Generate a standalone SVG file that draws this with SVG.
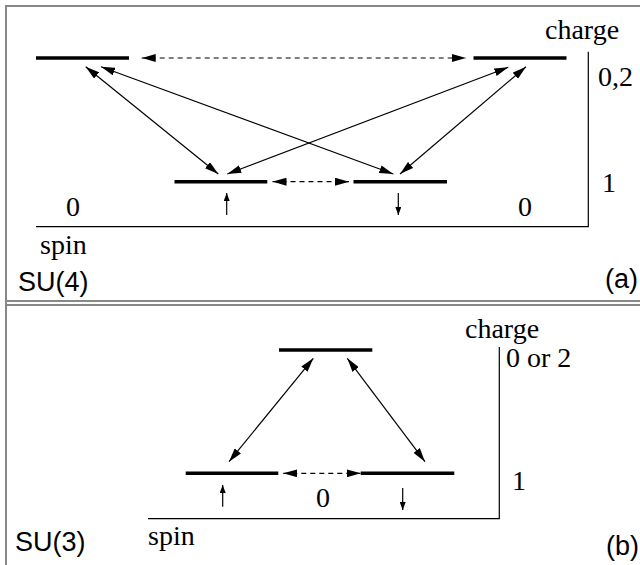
<svg xmlns="http://www.w3.org/2000/svg" width="640" height="565" viewBox="0 0 640 565">
<style>
.lvl{stroke:#000;stroke-width:3.5;}
.ax{stroke:#000;stroke-width:1.2;fill:none;}
.con{stroke:#000;stroke-width:1.2;fill:none;}
.dash{stroke-dasharray:5,4;}
.frame{stroke:#888;stroke-width:2;fill:none;}
.t{font-family:"Liberation Serif","Times New Roman",serif;font-size:28px;fill:#000;}
.s{font-family:"Liberation Sans",Arial,sans-serif;font-size:27px;fill:#000;}
</style>
<defs>
<marker id="ah" viewBox="0 0 14 8" refX="14" refY="4" markerWidth="14" markerHeight="8" markerUnits="userSpaceOnUse" orient="auto-start-reverse">
<path d="M0,0 L14,4 L0,8 z" fill="#000"/>
</marker>
<marker id="sh" viewBox="0 0 8 6" refX="8" refY="3" markerWidth="8" markerHeight="6" markerUnits="userSpaceOnUse" orient="auto">
<path d="M0,0 L8,3 L0,6 z" fill="#000"/>
</marker>
</defs>
<rect width="640" height="565" fill="#fff"/>
<g id="frame">
<path class="frame" d="M6,565 V6 H640"/>
<path class="frame" d="M6,301 H640 M6,305 H640"/>
</g>
<g id="panel-a">
<g id="a-top-left"><line class="lvl" x1="36" y1="58" x2="129" y2="58"/></g>
<g id="a-top-right"><line class="lvl" x1="473.5" y1="58" x2="566.5" y2="58"/></g>
<g id="a-bot-left"><line class="lvl" x1="174.5" y1="181.7" x2="267.3" y2="181.7"/></g>
<g id="a-bot-right"><line class="lvl" x1="353.5" y1="181.7" x2="447" y2="181.7"/></g>
<g id="a-axes">
<path class="ax" d="M36,226.7 H588.3 V51.7"/>
<text class="t" x="545" y="39">charge</text>
<text class="t" x="598" y="86">0,2</text>
<text class="t" x="602" y="192">1</text>
<text class="t" x="66" y="216">0</text>
<text class="t" x="518" y="216">0</text>
<text class="t" x="40" y="254">spin</text>
<text class="s" x="18" y="291">SU(4)</text>
<text class="s" x="605" y="288">(a)</text>
</g>
</g>
<g id="panel-b">
<g id="b-top"><line class="lvl" x1="279" y1="350" x2="372.3" y2="350"/></g>
<g id="b-bot-left"><line class="lvl" x1="185.7" y1="473.3" x2="278.3" y2="473.3"/></g>
<g id="b-bot-right"><line class="lvl" x1="360.7" y1="473.3" x2="454.3" y2="473.3"/></g>
<g id="b-axes">
<path class="ax" d="M148,518.7 H499.3 V347"/>
<text class="t" x="465" y="338">charge</text>
<text class="t" x="506" y="367">0 or 2</text>
<text class="t" x="512" y="490">1</text>
<text class="t" x="316" y="507">0</text>
<text class="t" x="148" y="545">spin</text>
<text class="s" x="15" y="551">SU(3)</text>
<text class="s" x="606" y="555">(b)</text>
</g>
</g>
<g id="connectors">
<line class="con dash" x1="141.7" y1="58" x2="466" y2="58" marker-start="url(#ah)" marker-end="url(#ah)"/>
<line class="con" x1="85.7" y1="66.7" x2="218.3" y2="174" marker-start="url(#ah)" marker-end="url(#ah)"/>
<line class="con" x1="101" y1="66.7" x2="393.3" y2="174" marker-start="url(#ah)" marker-end="url(#ah)"/>
<line class="con" x1="508.3" y1="67.3" x2="227.3" y2="174" marker-start="url(#ah)" marker-end="url(#ah)"/>
<line class="con" x1="526" y1="66.7" x2="400" y2="174" marker-start="url(#ah)" marker-end="url(#ah)"/>
<line class="con dash" x1="272.5" y1="181.7" x2="349" y2="181.7" marker-start="url(#ah)" marker-end="url(#ah)"/>
<line class="con" x1="226.7" y1="215" x2="226.7" y2="193" marker-end="url(#sh)"/>
<line class="con" x1="398.3" y1="193" x2="398.3" y2="215" marker-end="url(#sh)"/>
<line class="con" x1="313.3" y1="358.3" x2="229" y2="461.7" marker-start="url(#ah)" marker-end="url(#ah)"/>
<line class="con" x1="347.3" y1="358.3" x2="425" y2="461.7" marker-start="url(#ah)" marker-end="url(#ah)"/>
<line class="con dash" x1="283.3" y1="473.3" x2="360.7" y2="473.3" marker-start="url(#ah)" marker-end="url(#ah)"/>
<line class="con" x1="222.7" y1="506.7" x2="222.7" y2="485" marker-end="url(#sh)"/>
<line class="con" x1="402.7" y1="488" x2="402.7" y2="510" marker-end="url(#sh)"/>
</g>
</svg>
